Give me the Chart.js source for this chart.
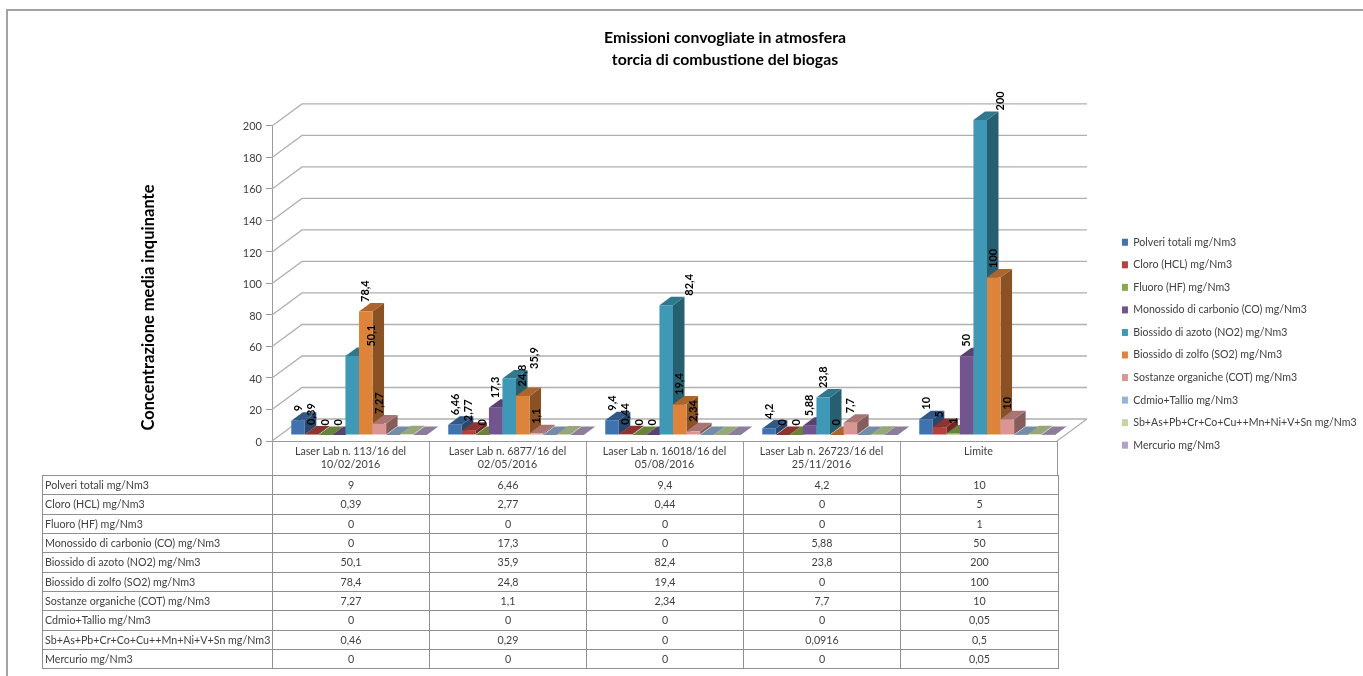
<!DOCTYPE html>
<html lang="it">
<head>
<meta charset="utf-8">
<title>Emissioni convogliate in atmosfera</title>
<script src="https://cdn.jsdelivr.net/npm/chart.js@4/dist/chart.umd.min.js"></script>
<style>
  html, body { margin: 0; padding: 0; background: #fff; overflow: hidden; }
  #page { position: relative; width: 1363px; height: 676px; font-family: Lato, sans-serif; }
  #frame { position: absolute; left: 6px; top: 9px; right: 0; bottom: 0; border-left: 2px solid #a3a3a3; border-top: 2px solid #a3a3a3; }
  #weeklyChart { position: absolute; left: 0; top: 0; }
  #dataTable { position: absolute; left: 42px; top: 475px; border-collapse: collapse; table-layout: fixed; width: 1016px; font-size: 10.7px; color: #404040; }
  #dataTable td { border: 1px solid #8f8f8f; height: 17.33px; padding: 0 0 1px 0; text-align: center; white-space: nowrap; overflow: visible; box-sizing: content-box; }
  #dataTable td:first-child { text-align: left; padding-left: 2px; }
</style>
</head>
<body>
<div id="page">
  <div id="frame"></div>
  <canvas id="weeklyChart" width="1363" height="676"></canvas>
  <table id="dataTable"><colgroup><col style="width:230px"><col style="width:157px"><col style="width:157px"><col style="width:157px"><col style="width:157px"><col style="width:158px"></colgroup><tbody></tbody></table>
</div>
<script>
const categories = [
    ["Laser Lab n. 113/16 del", "10/02/2016"],
    ["Laser Lab n. 6877/16 del", "02/05/2016"],
    ["Laser Lab n. 16018/16 del", "05/08/2016"],
    ["Laser Lab n. 26723/16 del", "25/11/2016"],
    "Limite"
];
const seriesNames = [
    "Polveri totali mg/Nm3",
    "Cloro (HCL) mg/Nm3",
    "Fluoro (HF) mg/Nm3",
    "Monossido di carbonio (CO) mg/Nm3",
    "Biossido di azoto (NO2) mg/Nm3",
    "Biossido di zolfo (SO2) mg/Nm3",
    "Sostanze organiche (COT) mg/Nm3",
    "Cdmio+Tallio mg/Nm3",
    "Sb+As+Pb+Cr+Co+Cu++Mn+Ni+V+Sn mg/Nm3",
    "Mercurio mg/Nm3"
];
const polveri = [9, 6.46, 9.4, 4.2, 10];
const cloro = [0.39, 2.77, 0.44, 0, 5];
const fluoro = [0, 0, 0, 0, 1];
const monossido = [0, 17.3, 0, 5.88, 50];
const biossidoAzoto = [50.1, 35.9, 82.4, 23.8, 200];
const biossidoZolfo = [78.4, 24.8, 19.4, 0, 100];
const sostanzeOrganiche = [7.27, 1.1, 2.34, 7.7, 10];
const cadmioTallio = [0, 0, 0, 0, 0.05];
const metalli = [0.46, 0.29, 0, 0.0916, 0.5];
const mercurio = [0, 0, 0, 0, 0.05];
const allSeries = [polveri, cloro, fluoro, monossido, biossidoAzoto, biossidoZolfo, sostanzeOrganiche, cadmioTallio, metalli, mercurio];

const colors = ["#3F72AE", "#B5413E", "#86A94A", "#72548F", "#3F98B5", "#DD833A", "#D99694", "#95B3D7", "#C3D69B", "#B3A2C7"];

// only the first seven series carry value labels on the bars
const labelledSeries = 7;
// labels moved by hand away from the bars: "series,category" -> x offset
const labelShift = { "4,0": 19, "4,1": 25, "4,2": 23, "4,4": 20 };

const fontFamily = "Lato, sans-serif";
const wallDepth = { x: 30, y: -22 };   // floor and back wall, from the front plane
const barShift = { x: 8.5, y: -6 };    // front face of the bars, from the front plane
const barDepth = { x: 11.5, y: -8.5 };

function formatValue(v) {
    return String(v).replace(".", ",");
}

function shade(hex, k) {
    const n = parseInt(hex.slice(1), 16);
    const r = Math.round((n >> 16) * k);
    const g = Math.round(((n >> 8) & 255) * k);
    const b = Math.round((n & 255) * k);
    return `rgb(${r},${g},${b})`;
}

function polygon(ctx, points, fill) {
    ctx.beginPath();
    points.forEach((p, i) => i === 0 ? ctx.moveTo(p[0], p[1]) : ctx.lineTo(p[0], p[1]));
    ctx.closePath();
    ctx.fillStyle = fill;
    ctx.fill();
}

// walls of the 3d box behind the bars
function drawWalls(chart) {
    const { ctx, chartArea, scales } = chart;
    const { left, right, bottom } = chartArea;
    ctx.save();
    ctx.strokeStyle = "#b0b0b0";
    ctx.lineWidth = 1.3;
    scales.y.ticks.forEach(tick => {
        const y = scales.y.getPixelForValue(tick.value);
        ctx.beginPath();
        ctx.moveTo(left, y);
        ctx.lineTo(left + wallDepth.x, y + wallDepth.y);
        ctx.lineTo(right + wallDepth.x, y + wallDepth.y);
        ctx.stroke();
    });
    ctx.beginPath();
    ctx.moveTo(right, bottom);
    ctx.lineTo(right + wallDepth.x, bottom + wallDepth.y);
    ctx.stroke();
    ctx.restore();
}

const bars3d = {
    id: "bars3d",
    beforeDatasetsDraw(chart) {
        const ctx = chart.ctx;
        drawWalls(chart);

        // series are painted left to right so each front face hides the side of the previous bar
        ctx.save();
        ctx.translate(barShift.x, barShift.y);
        for (let d = 0; d < chart.data.datasets.length; d++) {
            const meta = chart.getDatasetMeta(d);
            const color = colors[d];
            meta.data.forEach(bar => {
                const { x, y, base, width } = bar.getProps(["x", "y", "base", "width"], true);
                const l = x - width / 2;
                const r = x + width / 2;
                polygon(ctx, [[r, y], [r + barDepth.x, y + barDepth.y], [r + barDepth.x, base + barDepth.y], [r, base]], shade(color, 0.62));
                polygon(ctx, [[l, y], [l + barDepth.x, y + barDepth.y], [r + barDepth.x, y + barDepth.y], [r, y]], shade(color, 0.78));
            });
            meta.controller.draw();
        }
        ctx.restore();

        // value labels, turned 90 degrees
        ctx.save();
        ctx.fillStyle = "#000";
        ctx.font = "bold 11px " + fontFamily;
        ctx.textAlign = "left";
        ctx.textBaseline = "middle";
        for (let d = 0; d < labelledSeries; d++) {
            chart.getDatasetMeta(d).data.forEach((bar, i) => {
                const x = bar.x + barShift.x + (labelShift[d + "," + i] || 0);
                const y = bar.y + barShift.y + barDepth.y - 1;
                ctx.save();
                ctx.translate(x, y);
                ctx.rotate(-Math.PI / 2);
                ctx.fillText(formatValue(allSeries[d][i]), 0, 0);
                ctx.restore();
            });
        }
        ctx.restore();

        // axis title sits lower than the axis centre
        ctx.save();
        ctx.translate(149, 307.5);
        ctx.rotate(-Math.PI / 2);
        ctx.fillStyle = "#000";
        ctx.font = "bold 16.5px " + fontFamily;
        ctx.textAlign = "center";
        ctx.textBaseline = "middle";
        ctx.fillText("Concentrazione media inquinante", 0, 0);
        ctx.restore();

        return false;
    },
    afterLayout(chart) {
        // legend column starts further right than its layout box
        chart.legend.left = 1110;
        chart.legend.right = 1363;
        chart.legend.top = 225;
        chart.legend.bottom = 676;
    }
};

new Chart(document.getElementById("weeklyChart"), {
    type: "bar",
    data: {
        labels: categories,
        datasets: seriesNames.map((name, i) => ({
            label: name,
            data: allSeries[i],
            backgroundColor: colors[i],
            borderWidth: 0,
            clip: false
        }))
    },
    options: {
        responsive: false,
        animation: false,
        categoryPercentage: 0.863,
        barPercentage: 1,
        layout: { padding: { left: 143, right: 56, top: 0, bottom: 0 } },
        plugins: {
            tooltip: { enabled: false },
            title: {
                display: true,
                text: ["Emissioni convogliate in atmosfera", "torcia di combustione del biogas"],
                color: "#000",
                font: { family: fontFamily, size: 15.8, weight: "bold", lineHeight: 1.39 },
                padding: { top: 27, bottom: 55 }
            },
            legend: {
                position: "right",
                align: "start",
                maxWidth: 250,
                labels: {
                    color: "#404040",
                    font: { family: fontFamily, size: 10.6 },
                    boxWidth: 6,
                    boxHeight: 7,
                    padding: 11.95
                }
            }
        },
        scales: {
            x: {
                grid: { offset: true, drawOnChartArea: false, color: "#9a9a9a", tickLength: 35 },
                border: { color: "#9a9a9a" },
                ticks: { color: "#404040", font: { family: fontFamily, size: 10.7 }, padding: -31, maxRotation: 0, autoSkip: false },
                afterFit(scale) { scale.height = 235; }
            },
            y: {
                min: 0,
                max: 200,
                ticks: { stepSize: 20, color: "#404040", font: { family: fontFamily, size: 11 }, padding: 4, labelOffset: 1 },
                grid: { drawOnChartArea: false, color: "#9a9a9a", tickLength: 6 },
                border: { color: "#9a9a9a" },
                afterFit(scale) { scale.width = 129; }
            }
        }
    },
    plugins: [bars3d]
});

// table under the chart, one row per series
const tbody = document.querySelector("#dataTable tbody");
seriesNames.forEach((name, i) => {
    const row = tbody.insertRow();
    row.insertCell().textContent = name;
    allSeries[i].forEach(v => { row.insertCell().textContent = formatValue(v); });
});
</script>
</body>
</html>
